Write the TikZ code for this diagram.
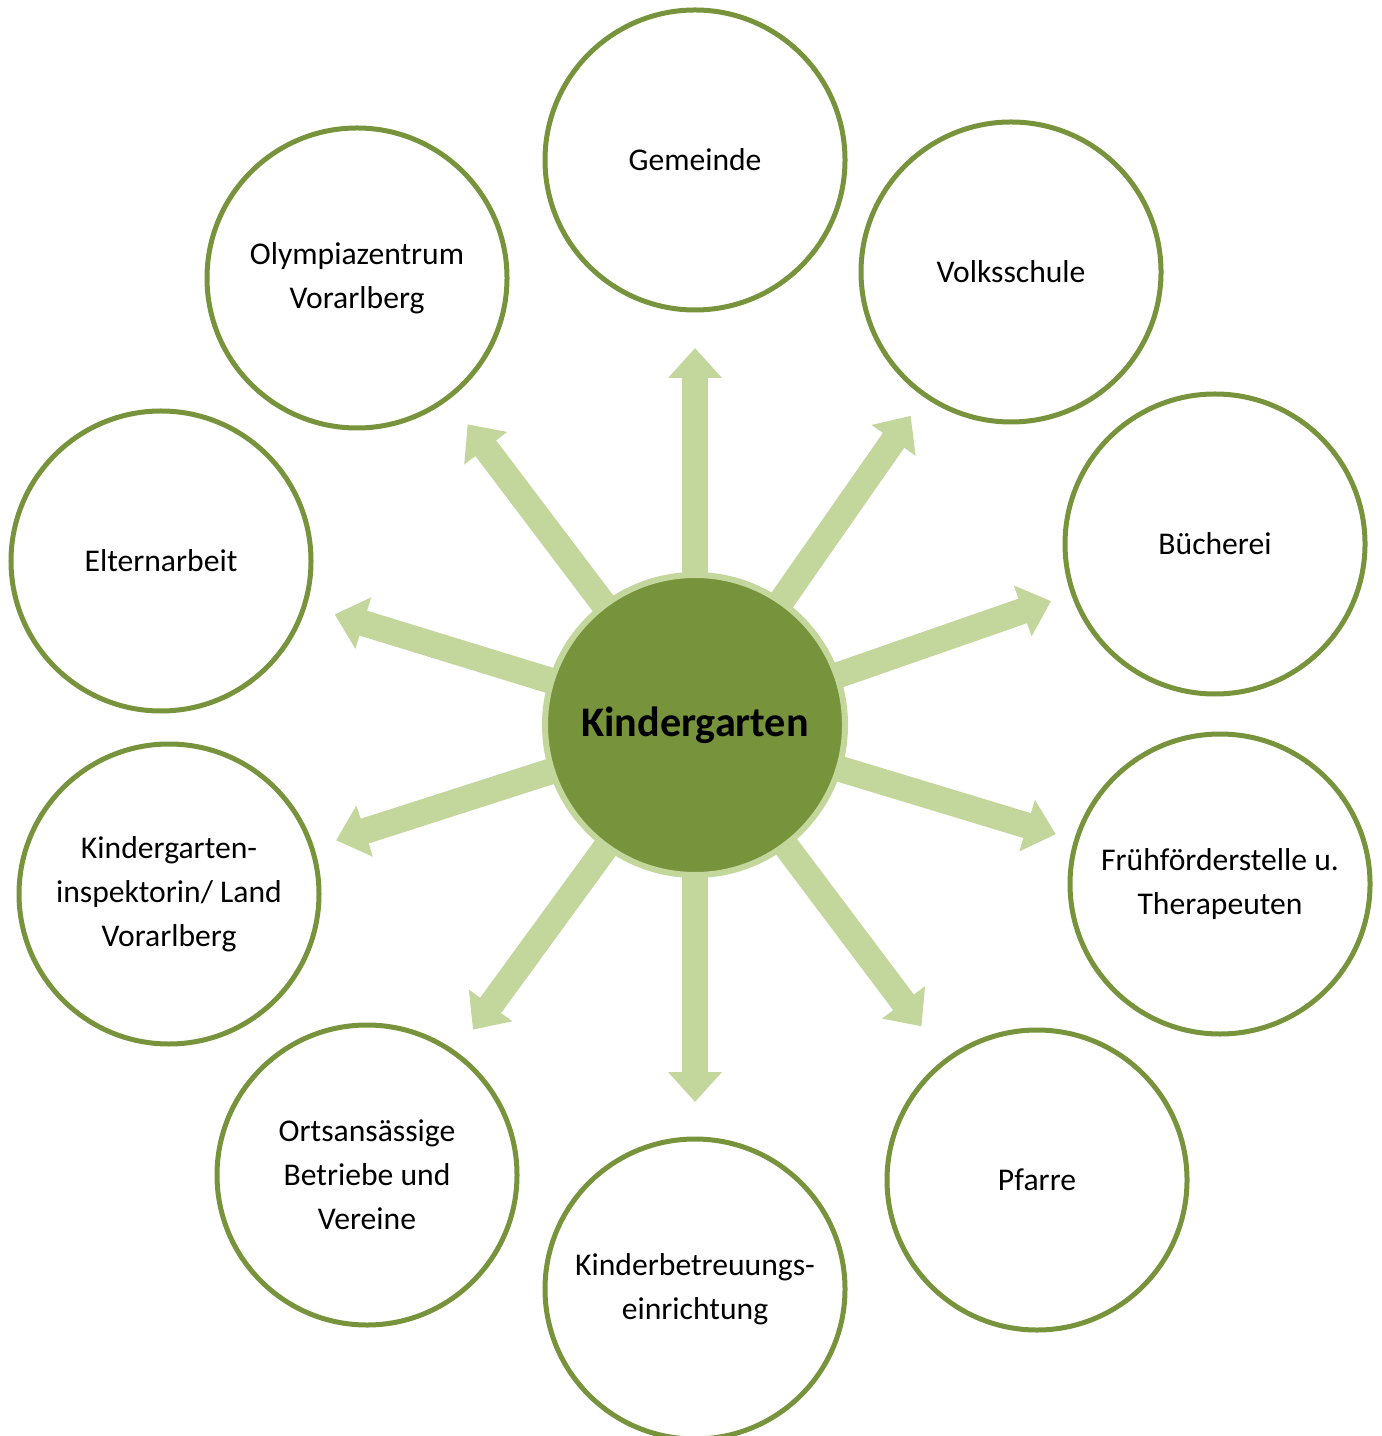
\documentclass[tikz,border=0pt]{standalone}
\usepackage{fontspec}
\setmainfont{Carlito}
\usetikzlibrary{positioning, arrows.meta, calc, backgrounds}
\definecolor{olivdunkel}{HTML}{77933C}
\definecolor{olivhell}{HTML}{C3D69B}
\tikzset{
  partner/.style={circle, draw=olivdunkel, line width=0.05cm, fill=white, minimum size=3.0cm, inner sep=0pt, align=center, text=black, font=\fontsize{9}{12.5}\selectfont},
  hub/.style={circle, draw=olivhell, fill=olivdunkel, line width=0.06cm, minimum size=3.0cm, inner sep=0pt, text=black, font=\fontsize{12}{14}\selectfont\bfseries},
  spoke/.style={draw=olivhell, line width=0.26cm, -{Triangle[width=0.52cm, length=0.30cm]}}
}

\begin{document}
\begin{tikzpicture}

    \useasboundingbox (0,0) rectangle (13.81,-14.36);

    % ==========================================
    % 1. Partner (Kreise aussen)
    % ==========================================
    \node[partner] (GEM) at (6.95, -1.60) {Gemeinde};
    \node[partner] (VS) at (10.11, -2.72) {Volksschule};
    \node[partner] (BUE) at (12.15, -5.44) {Bücherei};
    \node[partner] (FF) at (12.20, -8.84) {Frühförderstelle u.\\Therapeuten};
    \node[partner] (PF) at (10.37, -11.80) {Pfarre};
    \node[partner] (KB) at (6.95, -12.89) {Kinderbetreuungs-\\einrichtung};
    \node[partner] (ORT) at (3.67, -11.75) {Ortsansässige\\Betriebe und\\Vereine};
    \node[partner] (INSP) at (1.69, -8.94) {Kindergarten-\\inspektorin/ Land\\Vorarlberg};
    \node[partner] (ELT) at (1.61, -5.61) {Elternarbeit};
    \node[partner] (OLY) at (3.57, -2.78) {Olympiazentrum\\Vorarlberg};

    % ==========================================
    % 2. Kindergarten (Mitte) mit Pfeilen
    % ==========================================
    \node[hub] (KG) at (6.95, -7.25) {Kindergarten};

    \begin{scope}[on background layer]
        \foreach \ziel in {GEM, VS, BUE, FF, PF, KB, ORT, INSP, ELT, OLY} {
            \draw[spoke] (KG.center) -- ($(KG.center)!3.77cm!(\ziel.center)$);
        }
    \end{scope}

\end{tikzpicture}
\end{document}
